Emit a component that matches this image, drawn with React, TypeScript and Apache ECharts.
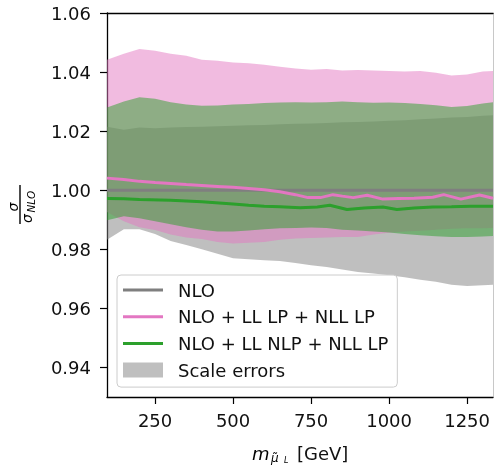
import React, { useEffect, useRef } from 'react';
import * as echarts from 'echarts';

const FONT = "'DejaVu Sans', sans-serif";

// band x grid (GeV)
const X = [96, 150, 200, 250, 300, 350, 400, 450, 500, 550, 600, 650, 700, 750, 800, 850, 900, 950, 1000, 1050, 1100, 1150, 1200, 1250, 1300, 1333];

// NLO scale-error band (grey)
const grayHi = [1.0215, 1.0205, 1.0212, 1.021, 1.0212, 1.0214, 1.0215, 1.0217, 1.0218, 1.022, 1.0221, 1.0223, 1.0225, 1.0226, 1.0228, 1.023, 1.0231, 1.0233, 1.0235, 1.0237, 1.024, 1.0243, 1.0246, 1.0248, 1.0252, 1.0254];
const grayLo = [0.9832, 0.9868, 0.9868, 0.9852, 0.9828, 0.9815, 0.98, 0.9785, 0.977, 0.9766, 0.9763, 0.976, 0.9754, 0.9746, 0.974, 0.9732, 0.9723, 0.9718, 0.9712, 0.9705, 0.9697, 0.969, 0.968, 0.9676, 0.9678, 0.968];

// NLO + LL LP + NLL LP band (pink)
const pinkHi = [1.0442, 1.0462, 1.0478, 1.0472, 1.0462, 1.0455, 1.0442, 1.0438, 1.0432, 1.043, 1.0425, 1.0418, 1.0412, 1.0408, 1.041, 1.0405, 1.0407, 1.0405, 1.0404, 1.0402, 1.0404, 1.0398, 1.0388, 1.0392, 1.0402, 1.0404];
const pinkLo = [0.9926, 0.9895, 0.9875, 0.9865, 0.985, 0.984, 0.9835, 0.9825, 0.982, 0.9822, 0.9825, 0.9832, 0.9837, 0.9838, 0.984, 0.9842, 0.9842, 0.985, 0.9856, 0.986, 0.9863, 0.9866, 0.987, 0.9871, 0.9871, 0.9872];

// NLO + LL NLP + NLL LP band (green)
const greenHi = [1.028, 1.03, 1.0315, 1.031, 1.0298, 1.029, 1.0286, 1.0287, 1.029, 1.0292, 1.0295, 1.0297, 1.0298, 1.0297, 1.0298, 1.03, 1.0298, 1.0296, 1.0297, 1.0295, 1.0292, 1.0288, 1.0282, 1.0285, 1.0294, 1.0298];
const greenLo = [0.9898, 0.9912, 0.9905, 0.9895, 0.9885, 0.9875, 0.9866, 0.986, 0.986, 0.9864, 0.9868, 0.9871, 0.9872, 0.9874, 0.9872, 0.9866, 0.9864, 0.986, 0.9857, 0.9852, 0.9848, 0.9844, 0.9842, 0.9842, 0.9843, 0.9845];

// central lines
const nloX = [96, 1333];
const nloY = [1.0, 1.0];
const pinkLineX = [96, 150, 200, 250, 300, 350, 400, 450, 500, 550, 600, 650, 700, 740, 780, 820, 850, 885, 930, 980, 1030, 1080, 1140, 1175, 1230, 1290, 1333];
const pinkLineY = [1.0041, 1.0036, 1.003, 1.0026, 1.0023, 1.0019, 1.0016, 1.0013, 1.001, 1.0006, 1.0002, 0.9995, 0.9985, 0.9975, 0.9975, 0.9985, 0.998, 0.9975, 0.9983, 0.997, 0.9972, 0.9973, 0.9976, 0.9985, 0.997, 0.9984, 0.9973];
const greenLineX = [96, 150, 200, 300, 400, 500, 550, 600, 650, 715, 770, 810, 865, 920, 980, 1025, 1080, 1140, 1200, 1260, 1333];
const greenLineY = [0.9972, 0.9971, 0.9969, 0.9966, 0.9961, 0.9953, 0.9949, 0.9946, 0.9944, 0.9941, 0.9943, 0.9949, 0.9935, 0.994, 0.9943, 0.9935, 0.994, 0.9943, 0.9944, 0.9946, 0.9946];

const xTicks = [250, 500, 750, 1000, 1250];
const yTicks = [0.94, 0.96, 0.98, 1.0, 1.02, 1.04, 1.06];

const legendNames = ['NLO', 'NLO + LL LP + NLL LP', 'NLO + LL NLP + NLL LP', 'Scale errors'];

const C_GRAY = '#7f7f7f';
const C_PINK = '#e377c2';
const C_GREEN = '#2ca02c';

export default function App() {
  const ref = useRef<HTMLDivElement>(null);
  useEffect(() => {
    const chart = echarts.init(ref.current!, null, { renderer: 'svg' });
    const pair = (xs: number[], ys: number[]) => xs.map((x, i) => [x, ys[i]]);
    const band = (name: string, lo: number[], hi: number[], color: string) => ({
      type: 'custom', name, color, silent: true, z: 1,
      data: X.map((x, i) => [x, lo[i], hi[i]]),
      encode: { x: 0, y: [1, 2] },
      renderItem: (params: any, api: any) => {
        if (params.dataIndex !== 0) return null;
        const upper = X.map((x, i) => api.coord([x, hi[i]]));
        const lower = X.map((x, i) => api.coord([x, lo[i]])).reverse();
        return {
          type: 'polygon',
          shape: { points: upper.concat(lower) },
          style: { fill: color, opacity: 0.5 },
          silent: true,
        };
      },
    });
    const line = (name: string, xs: number[], ys: number[], color: string) => ({
      type: 'line', name, data: pair(xs, ys), symbol: 'none', color,
      lineStyle: { color, width: 3 }, silent: true, z: 3,
    });
    const lineIcon = 'path://M0,0H40V3H0Z';
    const italic = { fontFamily: FONT, fontStyle: 'italic', fill: '#000' };

    chart.setOption({
      animation: false,
      grid: { left: 107, right: 1, top: 13, bottom: 68 },
      xAxis: [
        {
          type: 'value', min: 96, max: 1333, position: 'bottom',
          axisLine: { onZero: false, lineStyle: { color: '#000', width: 1.3 } },
          axisTick: { customValues: xTicks, length: 7, lineStyle: { color: '#000', width: 1.2 } },
          axisLabel: {
            customValues: xTicks, fontFamily: FONT, fontSize: 18, color: '#111', margin: 14,
            formatter: (v: number) => String(v),
          },
          splitLine: { show: false },
        },
        {
          type: 'value', min: 96, max: 1333, position: 'top',
          axisLine: { onZero: false, lineStyle: { color: '#000', width: 1.3 } },
          axisTick: { show: false }, axisLabel: { show: false }, splitLine: { show: false },
        },
      ],
      yAxis: [
        {
          type: 'value', min: 0.93, max: 1.06, position: 'left',
          axisLine: { show: true, onZero: false, lineStyle: { color: '#000', width: 1.3 } },
          axisTick: { show: true, customValues: yTicks, length: 7, lineStyle: { color: '#000', width: 1.2 } },
          axisLabel: {
            customValues: yTicks, fontFamily: FONT, fontSize: 18, color: '#111', margin: 16,
            formatter: (v: number) => v.toFixed(2),
          },
          splitLine: { show: false },
        },
        {
          type: 'value', min: 0.93, max: 1.06, position: 'right',
          axisLine: { show: true, onZero: false, lineStyle: { color: '#c8c8c8', width: 1 } },
          axisTick: { show: false }, axisLabel: { show: false }, splitLine: { show: false },
        },
      ],
      legend: {
        orient: 'vertical', left: 117, top: 275,
        itemWidth: 40, itemHeight: 15, itemGap: 8.7,
        padding: [6, 9, 8, 6],
        backgroundColor: 'rgba(255,255,255,0.8)', borderColor: '#cccccc', borderWidth: 1, borderRadius: 4,
        selectedMode: false,
        textStyle: { fontFamily: FONT, fontSize: 18, color: '#111', lineHeight: 18, padding: [0, 0, 0, 10] },
        data: [
          { name: legendNames[0], icon: lineIcon, itemStyle: { color: C_GRAY, borderWidth: 0 } },
          { name: legendNames[1], icon: lineIcon, itemStyle: { color: C_PINK, borderWidth: 0 } },
          { name: legendNames[2], icon: lineIcon, itemStyle: { color: C_GREEN, borderWidth: 0 } },
          { name: legendNames[3], icon: 'rect', itemStyle: { color: '#bfbfbf', borderWidth: 0, opacity: 1 } },
        ],
        z: 10,
      },
      graphic: [
        {
          type: 'group', x: 20, y: 204.5, rotation: Math.PI / 2,
          children: [
            { type: 'line', shape: { x1: -19.5, y1: 0, x2: 19.5, y2: 0 }, style: { stroke: '#000', lineWidth: 1.4 } },
            { type: 'text', x: -2.5, y: -7, style: { ...italic, text: 'σ', fontSize: 14, align: 'center', verticalAlign: 'middle' } },
            { type: 'text', x: -14, y: 7, style: { ...italic, text: 'σ', fontSize: 14, align: 'center', verticalAlign: 'middle' } },
            { type: 'text', x: -8, y: 11, style: { ...italic, text: 'NLO', fontSize: 10.5, align: 'left', verticalAlign: 'middle' } },
          ],
        },
        { type: 'text', x: 252, y: 453, style: { ...italic, text: 'm', fontSize: 18, align: 'left', verticalAlign: 'middle' } },
        { type: 'text', x: 271, y: 458, style: { ...italic, text: 'μ̃', fontSize: 12, align: 'left', verticalAlign: 'middle' } },
        { type: 'text', x: 284, y: 460, style: { ...italic, text: 'L', fontSize: 8, align: 'left', verticalAlign: 'middle' } },
        { type: 'text', x: 297, y: 453, style: { fontFamily: FONT, fill: '#111', text: '[GeV]', fontSize: 18, align: 'left', verticalAlign: 'middle' } },
      ],
      series: [
        band(legendNames[3], grayLo, grayHi, C_GRAY),
        band('pinkBand', pinkLo, pinkHi, C_PINK),
        band('greenBand', greenLo, greenHi, C_GREEN),
        line(legendNames[0], nloX, nloY, C_GRAY),
        line(legendNames[1], pinkLineX, pinkLineY, C_PINK),
        line(legendNames[2], greenLineX, greenLineY, C_GREEN),
      ],
    });
    return () => chart.dispose();
  }, []);
  return <div ref={ref} style={{ position: 'fixed', left: 0, top: 0, width: 494, height: 465 }} />;
}
